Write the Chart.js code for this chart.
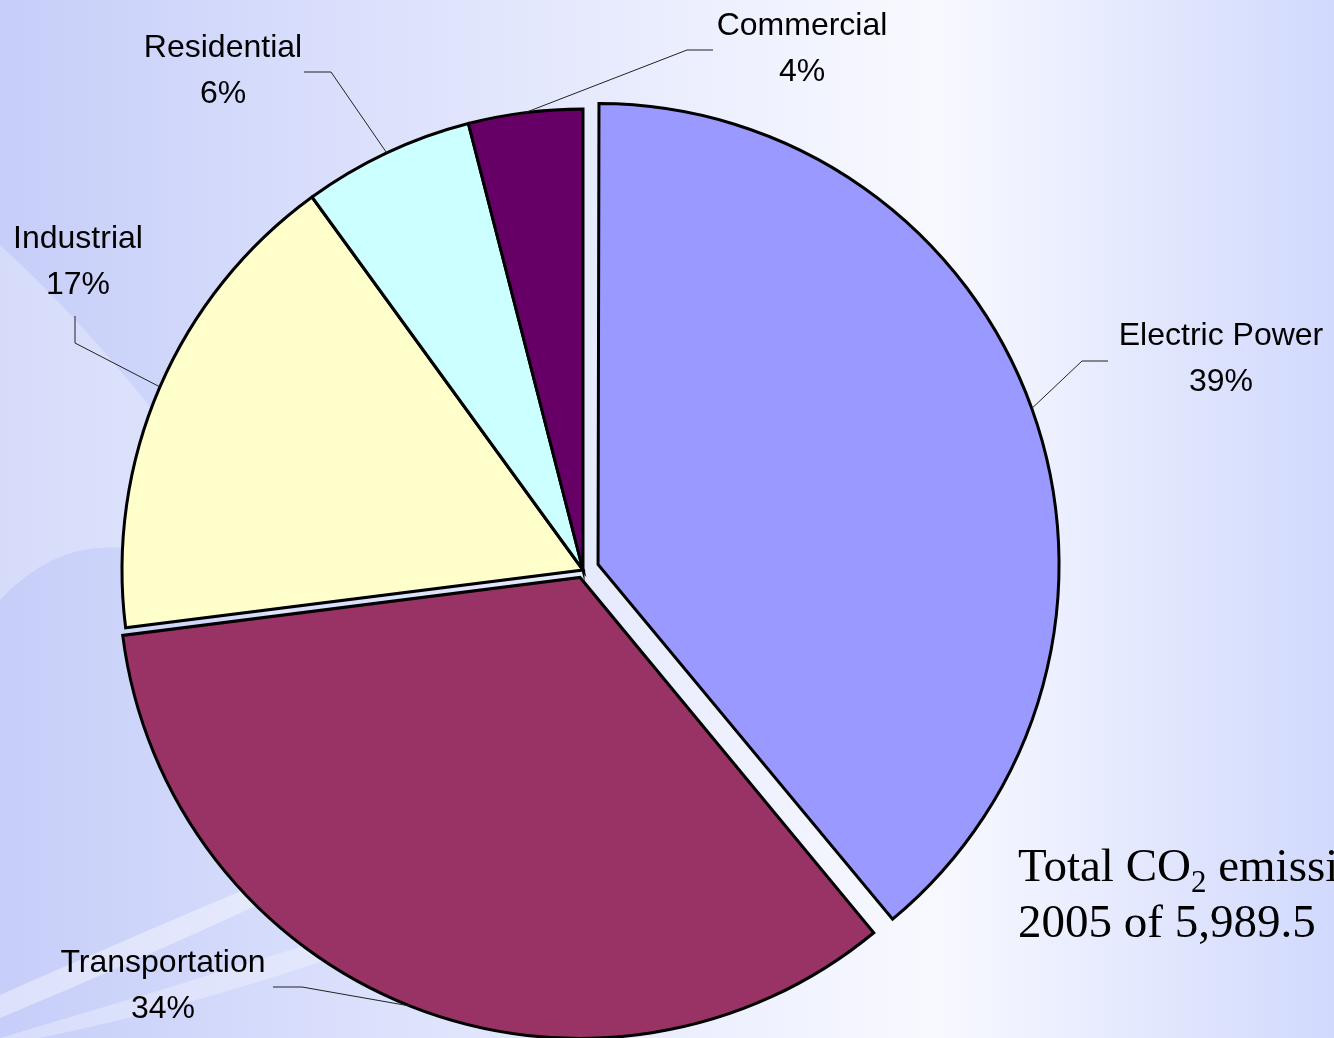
<!DOCTYPE html>
<html>
<head>
<meta charset="utf-8">
<title>CO2 emissions by sector</title>
<script src="https://cdn.jsdelivr.net/npm/chart.js@4.4.1/dist/chart.umd.min.js"></script>
<style>
  html, body { margin: 0; padding: 0; overflow: hidden; background: #e6e9fd; }
  #wrap { position: relative; width: 1334px; height: 1038px; }
  canvas { display: block; }
</style>
</head>
<body>
<div id="wrap"><canvas id="chart" width="1334" height="1038"></canvas></div>
<script>
// Sector shares of CO2 emissions, 2005 (percent)
const sectors = ['Electric Power', 'Transportation', 'Industrial', 'Residential', 'Commercial'];
const shares = [39, 34, 17, 6, 4];
const sliceColors = ['#9999FF', '#993366', '#FFFFCC', '#CCFFFF', '#660066'];
const sliceOffsets = [64, 32, 0, 0, 0];

// Note text in the lower right
const noteLine1 = ['Total CO', '2', ' emissions in'];
const noteLine2 = '2005 of 5,989.5';

// Callout placement, relative to the pie centre: label centre x, first baseline y,
// and the elbow / end points of the leader line.
const callouts = [
  { tx: 638,  ty: -225, elbow: [499, -209],  end: [525, -209] },
  { tx: -420, ty: 402,  elbow: [-281, 417],  end: [-310, 417] },
  { tx: -505, ty: -322, elbow: [-508, -227], end: [-508, -254] },
  { tx: -360, ty: -513, elbow: [-252, -498], end: [-279, -498] },
  { tx: 219,  ty: -535, elbow: [104, -520],  end: [130, -520] }
];

const LABEL_FONT = '32px "Liberation Sans", Arial, sans-serif';
const LINE_GAP = 46;
const NOTE_FONT = '47px "Liberation Serif", "Times New Roman", serif';
const NOTE_SUB_FONT = '31px "Liberation Serif", "Times New Roman", serif';

// Exploded slices keep the same radius as the rest of the pie.
function radiusGrowth(arc) {
  const shift = (arc.options.offset || 0) / 4;
  const fix = 1 - Math.sin(Math.min(Math.PI, arc.endAngle - arc.startAngle));
  return shift * fix;
}

const evenRadiusPlugin = {
  id: 'evenRadius',
  beforeDatasetsDraw(chart) {
    const meta = chart.getDatasetMeta(0);
    const base = meta.controller.outerRadius;
    meta.data.forEach(arc => { arc.outerRadius = base - radiusGrowth(arc); });
  }
};

const backgroundPlugin = {
  id: 'slideBackground',
  beforeDraw(chart) {
    const { ctx, width, height } = chart;
    ctx.save();
    const g = ctx.createLinearGradient(0, 0, width, 0);
    g.addColorStop(0, '#c6cef9');
    g.addColorStop(0.3, '#dde2fc');
    g.addColorStop(0.7, '#f8f9ff');
    g.addColorStop(1, '#d1d9fd');
    ctx.fillStyle = g;
    ctx.fillRect(0, 0, width, height);

    // light swooshes at the left
    ctx.fillStyle = 'rgba(255,255,255,0.28)';
    ctx.beginPath();
    ctx.moveTo(0, 245);
    ctx.quadraticCurveTo(170, 400, 320, 660);
    ctx.quadraticCurveTo(120, 470, 0, 600);
    ctx.closePath();
    ctx.fill();

    ctx.fillStyle = 'rgba(255,255,255,0.4)';
    ctx.beginPath();
    ctx.moveTo(0, 995);
    ctx.quadraticCurveTo(260, 880, 560, 760);
    ctx.quadraticCurveTo(260, 910, 0, 1018);
    ctx.closePath();
    ctx.fill();

    ctx.fillStyle = 'rgba(255,255,255,0.3)';
    ctx.beginPath();
    ctx.moveTo(0, 1038);
    ctx.quadraticCurveTo(300, 950, 600, 850);
    ctx.quadraticCurveTo(320, 980, 40, 1038);
    ctx.closePath();
    ctx.fill();
    ctx.restore();
  }
};

const calloutPlugin = {
  id: 'sliceCallouts',
  afterDatasetsDraw(chart) {
    const { ctx } = chart;
    const meta = chart.getDatasetMeta(0);
    const cx = chart.chartArea.left + chart.chartArea.width / 2;
    const cy = chart.chartArea.top + chart.chartArea.height / 2;
    ctx.save();
    meta.data.forEach((arc, i) => {
      const p = arc.getProps(['x', 'y', 'startAngle', 'endAngle', 'outerRadius'], true);
      const mid = (p.startAngle + p.endAngle) / 2;
      const shift = (arc.options.offset || 0) / 4;
      const r = p.outerRadius + radiusGrowth(arc);
      const ax = p.x + Math.cos(mid) * (shift + r);
      const ay = p.y + Math.sin(mid) * (shift + r);
      const c = callouts[i];

      ctx.strokeStyle = '#222';
      ctx.lineWidth = 1;
      ctx.beginPath();
      ctx.moveTo(ax, ay);
      ctx.lineTo(cx + c.elbow[0], cy + c.elbow[1]);
      ctx.lineTo(cx + c.end[0], cy + c.end[1]);
      ctx.stroke();

      ctx.fillStyle = '#000';
      ctx.font = LABEL_FONT;
      ctx.textAlign = 'center';
      ctx.textBaseline = 'alphabetic';
      ctx.fillText(chart.data.labels[i], cx + c.tx, cy + c.ty);
      ctx.fillText(chart.data.datasets[0].data[i] + '%', cx + c.tx, cy + c.ty + LINE_GAP);
    });

    // total emissions note
    const nx = 1018, ny = 881;
    ctx.textAlign = 'left';
    ctx.fillStyle = '#000';
    ctx.font = NOTE_FONT;
    let x = nx;
    ctx.fillText(noteLine1[0], x, ny);
    x += ctx.measureText(noteLine1[0]).width;
    ctx.font = NOTE_SUB_FONT;
    ctx.fillText(noteLine1[1], x, ny + 11);
    x += ctx.measureText(noteLine1[1]).width;
    ctx.font = NOTE_FONT;
    ctx.fillText(noteLine1[2], x, ny);
    ctx.fillText(noteLine2, nx, ny + 56);
    ctx.restore();
  }
};

new Chart(document.getElementById('chart'), {
  type: 'pie',
  data: {
    labels: sectors,
    datasets: [{
      data: shares,
      backgroundColor: sliceColors,
      borderColor: '#000',
      borderWidth: 3,
      borderJoinStyle: 'miter',
      offset: sliceOffsets
    }]
  },
  options: {
    responsive: false,
    devicePixelRatio: 1,
    animation: false,
    radius: 461,
    layout: { padding: { left: 0, right: 168, top: 102, bottom: 0 } },
    plugins: {
      legend: { display: false },
      tooltip: { enabled: false }
    }
  },
  plugins: [backgroundPlugin, evenRadiusPlugin, calloutPlugin]
});
</script>
</body>
</html>
